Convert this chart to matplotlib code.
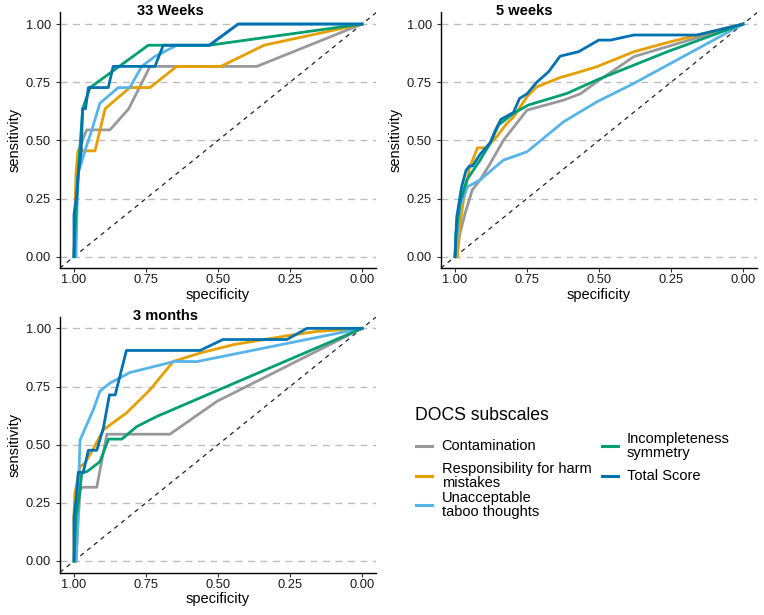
import numpy as np
import matplotlib.pyplot as plt
from matplotlib.lines import Line2D

plt.rcParams['font.family'] = ['Liberation Sans', 'DejaVu Sans']

labels = ['Contamination', 'Responsibility for harm\nmistakes', 'Unacceptable\ntaboo thoughts',
          'Incompleteness\nsymmetry', 'Total Score']
colors = ['#999999', '#E69F00', '#56B4E9', '#009E73', '#0072B2']
tick_vals = [0.0, 0.25, 0.5, 0.75, 1.0]
tick_labels = ['0.00', '0.25', '0.50', '0.75', '1.00']

# --- 33 Weeks ---
contam_33_spec = [1.0, 0.995, 0.99, 0.985, 0.956, 0.875, 0.81, 0.736, 0.365, 0.0]
contam_33_sens = [0.0, 0.18, 0.36, 0.455, 0.545, 0.545, 0.636, 0.818, 0.818, 1.0]
resp_33_spec = [1.0, 0.997, 0.993, 0.986, 0.927, 0.892, 0.806, 0.736, 0.643, 0.49, 0.34, 0.0]
resp_33_sens = [0.0, 0.18, 0.36, 0.455, 0.455, 0.636, 0.727, 0.727, 0.818, 0.818, 0.909, 1.0]
unacc_33_spec = [0.993, 0.99, 0.985, 0.962, 0.938, 0.91, 0.846, 0.806, 0.765, 0.72, 0.643, 0.53, 0.43, 0.0]
unacc_33_sens = [0.0, 0.18, 0.36, 0.455, 0.545, 0.66, 0.727, 0.727, 0.818, 0.86, 0.909, 0.909, 1.0, 1.0]
incomp_33_spec = [1.0, 0.997, 0.99, 0.98, 0.97, 0.944, 0.742, 0.53, 0.0]
incomp_33_sens = [0.0, 0.09, 0.27, 0.455, 0.636, 0.727, 0.909, 0.909, 1.0]
total_33_spec = [1.0, 1.0, 0.99, 0.985, 0.975, 0.97, 0.96, 0.95, 0.881, 0.864, 0.719, 0.69, 0.53, 0.43, 0.0]
total_33_sens = [0.0, 0.18, 0.27, 0.36, 0.455, 0.636, 0.636, 0.727, 0.727, 0.818, 0.818, 0.909, 0.909, 1.0, 1.0]

# --- 5 weeks ---
contam_5_spec = [0.994, 0.983, 0.965, 0.94, 0.913, 0.878, 0.832, 0.75, 0.623, 0.565, 0.507, 0.379, 0.0]
contam_5_sens = [0.0, 0.1, 0.186, 0.287, 0.33, 0.40, 0.50, 0.63, 0.673, 0.70, 0.752, 0.86, 1.0]
resp_5_spec = [0.992, 0.985, 0.971, 0.95, 0.922, 0.892, 0.855, 0.82, 0.797, 0.75, 0.716, 0.635, 0.565,
               0.507, 0.379, 0.252, 0.0]
resp_5_sens = [0.0, 0.115, 0.24, 0.38, 0.468, 0.468, 0.516, 0.573, 0.60, 0.688, 0.73, 0.77, 0.795,
               0.817, 0.881, 0.924, 1.0]
unacc_5_spec = [1.0, 0.992, 0.983, 0.957, 0.913, 0.832, 0.75, 0.623, 0.507, 0.379, 0.0]
unacc_5_sens = [0.0, 0.1, 0.215, 0.30, 0.33, 0.415, 0.451, 0.58, 0.666, 0.745, 1.0]
incomp_5_spec = [1.0, 0.997, 0.983, 0.959, 0.913, 0.878, 0.849, 0.797, 0.745, 0.611, 0.507, 0.263, 0.0]
incomp_5_sens = [0.0, 0.1, 0.23, 0.33, 0.415, 0.487, 0.566, 0.616, 0.652, 0.702, 0.76, 0.881, 1.0]
total_5_spec = [1.0, 0.994, 0.977, 0.962, 0.95, 0.939, 0.913, 0.878, 0.861, 0.841, 0.797, 0.776, 0.75,
                0.716, 0.675, 0.635, 0.571, 0.501, 0.46, 0.379, 0.159, 0.0]
total_5_sens = [0.0, 0.17, 0.30, 0.37, 0.39, 0.39, 0.44, 0.49, 0.54, 0.59, 0.62, 0.68, 0.70,
                0.75, 0.795, 0.862, 0.881, 0.931, 0.931, 0.953, 0.953, 1.0]

# --- 3 months ---
contam_3_spec = [0.993, 0.988, 0.979, 0.973, 0.921, 0.886, 0.667, 0.504, 0.0]
contam_3_sens = [0.0, 0.12, 0.30, 0.317, 0.317, 0.545, 0.545, 0.686, 1.0]
resp_3_spec = [1.0, 1.0, 0.997, 0.979, 0.962, 0.932, 0.898, 0.818, 0.736, 0.655, 0.562, 0.446,
               0.261, 0.156, 0.0]
resp_3_sens = [0.0, 0.205, 0.29, 0.406, 0.42, 0.485, 0.564, 0.636, 0.736, 0.858, 0.894, 0.93,
               0.968, 0.987, 1.0]
unacc_3_spec = [0.993, 0.988, 0.985, 0.979, 0.933, 0.91, 0.875, 0.806, 0.65, 0.574, 0.0]
unacc_3_sens = [0.0, 0.12, 0.30, 0.52, 0.65, 0.73, 0.765, 0.81, 0.858, 0.857, 1.0]
incomp_3_spec = [1.0, 0.993, 0.981, 0.973, 0.954, 0.91, 0.88, 0.834, 0.782, 0.713, 0.0]
incomp_3_sens = [0.0, 0.19, 0.284, 0.378, 0.385, 0.427, 0.524, 0.524, 0.578, 0.621, 1.0]
total_3_spec = [1.0, 1.0, 0.993, 0.985, 0.968, 0.95, 0.921, 0.898, 0.877, 0.857, 0.818, 0.562,
                0.483, 0.261, 0.191, 0.0]
total_3_sens = [0.0, 0.19, 0.26, 0.381, 0.381, 0.476, 0.476, 0.571, 0.714, 0.714, 0.905, 0.905,
                0.952, 0.952, 1.0, 1.0]

panels = [
    ('33 Weeks', 0.349, [(contam_33_spec, contam_33_sens), (resp_33_spec, resp_33_sens),
                         (unacc_33_spec, unacc_33_sens), (incomp_33_spec, incomp_33_sens),
                         (total_33_spec, total_33_sens)]),
    ('5 weeks', 0.264, [(contam_5_spec, contam_5_sens), (resp_5_spec, resp_5_sens),
                        (unacc_5_spec, unacc_5_sens), (incomp_5_spec, incomp_5_sens),
                        (total_5_spec, total_5_sens)]),
    ('3 months', 0.333, [(contam_3_spec, contam_3_sens), (resp_3_spec, resp_3_sens),
                         (unacc_3_spec, unacc_3_sens), (incomp_3_spec, incomp_3_sens),
                         (total_3_spec, total_3_sens)]),
]

W, H = 764, 615
fig = plt.figure(figsize=(W / 100, H / 100), dpi=100)
rects = [[0.078, 0.5637, 0.4147, 0.4161],
         [0.5767, 0.5637, 0.4147, 0.4161],
         [0.078, 0.0689, 0.4147, 0.4161]]

for rect, (title, tx, series) in zip(rects, panels):
    ax = fig.add_axes(rect)
    for t in tick_vals:
        ax.axhline(t, color='#bdbdbd', lw=1.0, ls=(0, (5, 4)), zorder=0)
    ax.axline((1, 0), (0, 1), color='#222222', lw=0.9, ls=(0, (3.5, 3.5)), zorder=1)
    for (sp, se), c in zip(series, colors):
        ax.plot(sp, se, color=c, lw=2.0, zorder=2)
    ax.set_xlim(1.05, -0.05)
    ax.set_ylim(-0.05, 1.05)
    ax.set_xticks(tick_vals)
    ax.set_xticklabels(tick_labels)
    ax.set_yticks(tick_vals)
    ax.set_yticklabels(tick_labels)
    for s in ['top', 'right']:
        ax.spines[s].set_visible(False)
    for s in ['left', 'bottom']:
        ax.spines[s].set_color('black')
        ax.spines[s].set_linewidth(1.0)
    ax.tick_params(axis='both', length=2.75, width=0.8, color='#333333', labelsize=9.3, labelcolor='#1a1a1a')
    ax.tick_params(axis='x', pad=1.5)
    ax.tick_params(axis='y', pad=3.5)
    ax.set_xlabel('specificity', fontsize=10.5, labelpad=1)
    ax.set_ylabel('sensitivity', fontsize=10.5, labelpad=3)
    ax.text(tx, 1.004, title, transform=ax.transAxes, fontsize=10.5, fontweight='bold',
            ha='center', va='center')


def px(x, y):
    return x / W, 1 - y / H


# legend
fig.text(*px(415, 415), 'DOCS subscales', fontsize=12.7, ha='left', va='center')
key_cols = [(416, 441.7), (601.7, 626.7)]
key_rows = [446, 476, 505]
slots = [(0, 0), (0, 1), (0, 2), (1, 0), (1, 1)]
for lab, c, (ci, ri) in zip(labels, colors, slots):
    kx, tx = key_cols[ci]
    ky = key_rows[ri]
    x0, y0 = px(kx, ky)
    x1, _ = px(kx + 16, ky)
    fig.add_artist(Line2D([x0, x1], [y0, y0], color=c, lw=2.2, transform=fig.transFigure))
    fig.text(*px(tx, ky), lab, fontsize=10.5, ha='left', va='center', linespacing=1.05)

fig.savefig('out.png', dpi=100)
